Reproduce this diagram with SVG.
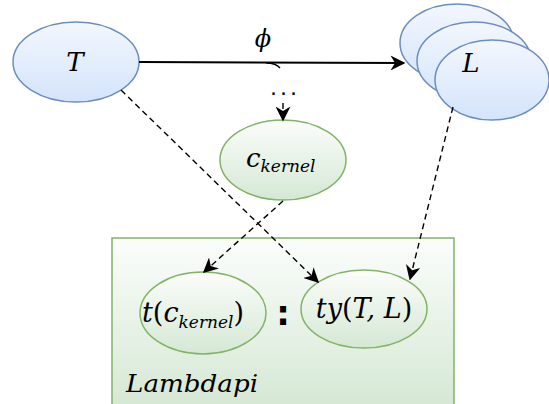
<svg xmlns="http://www.w3.org/2000/svg" width="549" height="404" viewBox="0 0 549 404">
<defs>
<linearGradient id="gb" x1="0" y1="0" x2="0" y2="1"><stop offset="0" stop-color="#f3f7fe"/><stop offset="1" stop-color="#d4e4fb"/></linearGradient>
<linearGradient id="gg" x1="0" y1="0" x2="0" y2="1"><stop offset="0" stop-color="#fbfdfb"/><stop offset="1" stop-color="#d5e8d4"/></linearGradient>
<marker id="ah" viewBox="0 0 10 10" refX="9" refY="5" markerWidth="15" markerHeight="15" markerUnits="userSpaceOnUse" orient="auto"><path d="M0,0 L10,5 L0,10 L3,5 Z" fill="#000"/></marker>
<style>
.b{fill:url(#gb);stroke:#6c8ebf;stroke-width:1.5}
.g{fill:url(#gg);stroke:#82b366;stroke-width:1.5}
.m{font-family:'DejaVu Serif',serif;font-style:italic;fill:#000}
.d{fill:none;stroke:#000;stroke-width:1.4;stroke-dasharray:6,4}
</style>
</defs>
<g id="lambdapi"><rect x="112" y="238" width="342" height="170" class="g"/><text x="126" y="392" class="m" font-size="24" textLength="132" lengthAdjust="spacingAndGlyphs">Lambdapi</text></g>
<g id="T"><ellipse cx="76" cy="62" rx="63" ry="40" class="b"/><text x="75" y="71" class="m" font-size="26" text-anchor="middle">T</text></g>
<g id="L">
<ellipse cx="457" cy="43" rx="57" ry="39" class="b"/>
<ellipse cx="474" cy="61" rx="57" ry="39" class="b"/>
<ellipse cx="492" cy="80" rx="57" ry="40" class="b"/>
<text x="471" y="72" class="m" font-size="26" text-anchor="middle">L</text></g>
<g id="ckernel"><ellipse cx="283" cy="160" rx="63" ry="40" class="g"/><text x="246" y="167" class="m" font-size="26">c<tspan font-size="17" dy="5">kernel</tspan></text></g>
<g id="tc"><ellipse cx="203" cy="313" rx="63" ry="41" class="g"/><text x="142" y="322" class="m" font-size="27">t<tspan font-style="normal">(</tspan>c<tspan font-size="17" dy="6">kernel</tspan><tspan font-style="normal" dy="-6">)</tspan></text></g>
<g id="colon"><text x="283" y="325" font-family="'DejaVu Sans',sans-serif" font-weight="bold" font-size="34" text-anchor="middle">:</text></g>
<g id="ty"><ellipse cx="364" cy="309" rx="63" ry="39" class="g"/><text x="364" y="318" class="m" font-size="27" text-anchor="middle">ty<tspan font-style="normal">(</tspan>T, L<tspan font-style="normal">)</tspan></text></g>
<g id="connectors">
<path d="M139,62 L404,63" fill="none" stroke="#000" stroke-width="2" marker-end="url(#ah)"/>
<path d="M266,63 Q276,63 280,68" fill="none" stroke="#000" stroke-width="1.3"/>
<text x="263" y="47" class="m" font-size="24" text-anchor="middle">ϕ</text>
<text x="285" y="95" font-family="'DejaVu Sans',sans-serif" font-size="22" text-anchor="middle" letter-spacing="3">...</text>
<path d="M283,103 L283,120" class="d" marker-end="url(#ah)"/>
<path d="M121,90 L318,282" class="d" marker-end="url(#ah)"/>
<path d="M283,201 L204,272" class="d" marker-end="url(#ah)"/>
<path d="M453,107 L410,279" class="d" marker-end="url(#ah)"/>
</g>
</svg>
